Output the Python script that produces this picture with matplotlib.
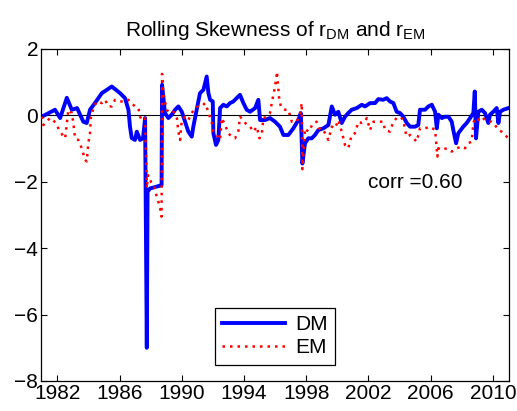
import matplotlib
matplotlib.use("Agg")
import matplotlib.pyplot as plt

plt.rcParams["font.family"] = ["Liberation Sans", "DejaVu Sans"]
plt.rcParams["mathtext.fontset"] = "custom"
plt.rcParams["mathtext.rm"] = "Liberation Sans"

# rolling skewness, developed markets
dm_t = [1981.00, 1981.85, 1982.18, 1982.61, 1982.93, 1983.27, 1983.67, 1983.89, 1984.10, 1984.43,
        1984.86, 1985.50, 1986.03, 1986.35, 1986.57, 1986.67, 1986.78, 1986.99, 1987.11, 1987.32,
        1987.51, 1987.64, 1987.75, 1987.80, 1987.96, 1988.35, 1988.70, 1988.73, 1988.81, 1988.92,
        1989.14, 1989.35, 1989.57, 1989.78, 1990.00, 1990.21, 1990.42, 1990.64, 1990.74, 1990.96,
        1991.17, 1991.39, 1991.60, 1991.71, 1991.82, 1991.99, 1992.03, 1992.20, 1992.35, 1992.46,
        1992.67, 1992.89, 1993.10, 1993.31, 1993.53, 1993.74, 1993.96, 1994.17, 1994.39, 1994.71,
        1994.92, 1995.03, 1995.35, 1995.67, 1995.99, 1996.31, 1996.53, 1996.85, 1997.17, 1997.49,
        1997.65, 1997.75, 1997.92, 1998.13, 1998.35, 1998.56, 1998.78, 1999.10, 1999.42, 1999.64,
        1999.85, 2000.06, 2000.28, 2000.49, 2000.70, 2000.92, 2001.24, 2001.57, 2001.78, 2002.10,
        2002.42, 2002.63, 2002.95, 2003.17, 2003.38, 2003.60, 2003.81, 2004.03, 2004.24, 2004.46,
        2004.67, 2004.99, 2005.20, 2005.31, 2005.63, 2005.85, 2006.07, 2006.28, 2006.39, 2006.49,
        2006.71, 2006.92, 2007.14, 2007.35, 2007.45, 2007.63, 2007.77, 2007.93, 2008.09, 2008.31,
        2008.53, 2008.74, 2008.83, 2008.91, 2009.06, 2009.28, 2009.49, 2009.70, 2009.81, 2010.02,
        2010.24, 2010.35, 2010.46, 2010.67, 2010.99]
dm_skew = [-0.04, 0.17, -0.08, 0.53, 0.17, 0.22, -0.19, -0.23, 0.17, 0.38,
           0.67, 0.87, 0.67, 0.52, 0.17, -0.34, -0.68, -0.74, -0.49, -0.74,
           -0.68, -0.08, -7.00, -2.30, -2.20, -2.15, -2.10, 0.92, 0.57, 0.07,
           -0.08, 0.02, 0.17, 0.27, 0.11, -0.19, -0.49, -0.64, -0.34, 0.17,
           0.67, 0.77, 1.17, 0.67, 0.47, 0.42, -0.54, -0.89, -0.74, 0.22,
           0.32, 0.27, 0.37, 0.42, 0.52, 0.62, 0.37, 0.17, 0.11, 0.22,
           0.47, -0.14, -0.14, -0.08, -0.19, -0.34, -0.59, -0.59, -0.39, -0.14,
           0.07, -1.45, -0.84, -0.69, -0.69, -0.59, -0.44, -0.39, -0.29, 0.27,
           0.02, 0.11, -0.23, -0.04, 0.07, 0.17, 0.22, 0.32, 0.27, 0.37,
           0.37, 0.49, 0.47, 0.52, 0.42, 0.37, 0.11, 0.07, -0.04, -0.23,
           -0.34, -0.34, -0.29, 0.17, 0.17, 0.27, 0.32, 0.11, -0.39, 0.02,
           -0.08, -0.04, -0.04, -0.19, -0.44, -0.84, -0.54, -0.44, -0.34, -0.23,
           -0.08, 0.07, 0.72, -0.69, 0.11, 0.17, 0.07, -0.23, 0.02, 0.11,
           0.22, -0.23, 0.11, 0.17, 0.22]

# rolling skewness, emerging markets
em_t = [1981.00, 1981.10, 1981.53, 1981.75, 1982.07, 1982.39, 1982.50, 1982.71, 1982.93, 1983.03,
        1983.14, 1983.35, 1983.57, 1983.78, 1983.89, 1983.99, 1984.10, 1984.15, 1984.32, 1984.53,
        1984.86, 1985.07, 1985.28, 1985.50, 1985.71, 1986.03, 1986.35, 1986.57, 1986.67, 1986.99,
        1987.21, 1987.32, 1987.43, 1987.64, 1987.75, 1987.83, 1988.02, 1988.22, 1988.41, 1988.57,
        1988.70, 1988.73, 1988.81, 1989.03, 1989.25, 1989.46, 1989.68, 1989.78, 1989.89, 1990.00,
        1990.21, 1990.42, 1990.64, 1990.85, 1991.06, 1991.28, 1991.49, 1991.71, 1991.82, 1991.93,
        1992.03, 1992.25, 1992.46, 1992.57, 1992.78, 1992.99, 1993.21, 1993.42, 1993.63, 1993.74,
        1993.96, 1994.17, 1994.39, 1994.60, 1994.82, 1994.99, 1995.14, 1995.24, 1995.46, 1995.67,
        1995.78, 1995.93, 1996.06, 1996.12, 1996.27, 1996.42, 1996.64, 1996.85, 1997.07, 1997.39,
        1997.60, 1997.71, 1997.75, 1997.92, 1998.13, 1998.46, 1998.67, 1998.89, 1999.10, 1999.42,
        1999.64, 1999.85, 2000.06, 2000.28, 2000.49, 2000.70, 2000.92, 2001.13, 2001.35, 2001.57,
        2001.78, 2001.89, 2002.10, 2002.32, 2002.63, 2002.95, 2003.06, 2003.38, 2003.60, 2003.81,
        2004.03, 2004.24, 2004.35, 2004.46, 2004.67, 2004.88, 2005.10, 2005.31, 2005.63, 2005.95,
        2006.28, 2006.43, 2006.49, 2006.71, 2007.03, 2007.35, 2007.67, 2007.99, 2008.20, 2008.41,
        2008.63, 2008.74, 2008.85, 2009.06, 2009.28, 2009.49, 2009.70, 2009.92, 2010.13, 2010.35,
        2010.56, 2010.78, 2010.99]
em_skew = [-0.04, -0.29, -0.08, -0.14, -0.39, -0.64, -0.69, 0.17, 0.07, -0.23,
           -0.69, -0.74, -0.99, -1.34, -1.39, -0.84, -0.54, -0.08, 0.22, 0.42,
           0.37, 0.47, 0.27, 0.27, 0.47, 0.42, 0.42, 0.47, 0.42, 0.27,
           0.22, -0.04, -0.14, -0.08, -2.20, -1.80, -2.00, -2.10, -2.50, -2.70,
           -3.05, 1.25, 0.67, 0.17, 0.07, 0.11, -0.08, -0.49, -0.74, -0.14,
           -0.04, -0.14, 0.07, 0.22, 0.27, 0.27, 0.37, 0.11, -0.08, -0.23,
           -0.49, -0.59, -0.74, -0.08, -0.29, -0.54, -0.64, -0.69, -0.49, -0.04,
           -0.14, -0.29, -0.34, -0.49, -0.34, -0.69, -0.59, -0.08, -0.04, 0.07,
           0.37, 0.72, 1.07, 1.32, 0.42, 0.22, 0.17, 0.17, -0.19, -0.19,
           0.07, 0.37, -1.62, -0.39, -0.49, -0.23, -0.19, -0.44, -0.44, -0.74,
           -0.34, -0.39, -0.14, -0.49, -0.89, -0.99, -0.59, -0.54, -0.19, -0.23,
           -0.19, -0.08, -0.44, -0.19, -0.19, -0.19, -0.44, -0.49, -0.19, -0.08,
           -0.04, -0.14, -0.44, -0.64, -0.59, -0.69, -0.79, -0.39, -0.39, -0.34,
           -0.44, -1.24, -0.99, -1.04, -0.99, -1.09, -0.99, -0.94, -0.99, -0.84,
           -0.79, -0.23, -0.08, -0.14, -0.04, -0.14, -0.19, -0.19, -0.29, -0.44,
           -0.49, -0.59, -0.69]

corr_label = "corr =0.60"
year_ticks = [1982, 1986, 1990, 1994, 1998, 2002, 2006, 2010]
skew_ticks = [-8, -6, -4, -2, 0, 2]

fig = plt.figure(figsize=(5.17, 4.11), dpi=100)
ax = fig.add_axes([0.0793, 0.073, 0.9052, 0.8078])

ax.axhline(0, color="black", linewidth=0.8, zorder=1)
ax.plot(dm_t, dm_skew, color=(0, 0, 1), linewidth=2.8, label="DM", zorder=2)
ax.plot(em_t, em_skew, color=(1, 0, 0), linewidth=1.8, linestyle=(0, (1, 2)), label="EM", zorder=3)

ax.set_xlim(1980.95, 2011.03)
ax.set_ylim(-8, 2)
ax.set_xticks(year_ticks)
ax.set_yticks(skew_ticks)
ax.set_yticklabels([str(v).replace("-", "\u2212") for v in skew_ticks])
ax.tick_params(direction="in", top=True, right=True, labelsize=15, length=4, width=0.8, pad=2)
for s in ax.spines.values():
    s.set_linewidth(0.9)

ax.set_title(r"Rolling Skewness of r$_{\mathrm{DM}}$ and r$_{\mathrm{EM}}$", fontsize=15, pad=9)
ax.text(2002.0, -2.02, corr_label, fontsize=15, va="center", ha="left")

leg = ax.legend(loc="lower center", bbox_to_anchor=(0.5, 0.03), fontsize=15,
                fancybox=False, framealpha=1, edgecolor="black", handlelength=3.0,
                borderpad=0.35, labelspacing=0.2, handletextpad=0.5, borderaxespad=0.3)
leg.get_frame().set_linewidth(0.9)

fig.savefig("out.png", dpi=100)
